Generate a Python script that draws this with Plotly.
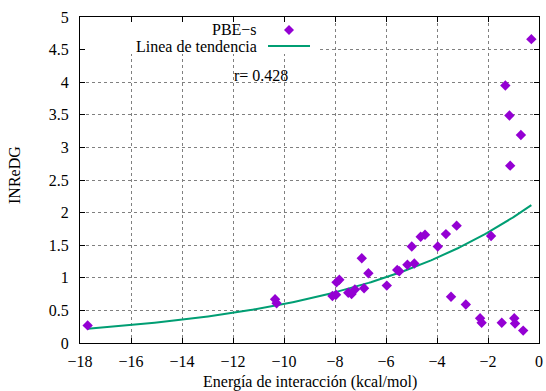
import numpy as np
import plotly.graph_objects as go

# Data
energia = [-17.70, -10.35, -10.29, -8.10, -7.96, -7.94, -7.83, -7.48, -7.35,
           -7.22, -6.95, -6.86, -6.69, -5.97, -5.56, -5.48, -5.16, -4.99, -4.89,
           -4.64, -4.47, -3.97, -3.65, -3.45, -3.23, -2.87, -2.31, -2.25, -1.88,
           -1.46, -1.32, -1.16, -1.13, -0.97, -0.94, -0.71, -0.62, -0.30]
inredg = [0.27, 0.67, 0.61, 0.72, 0.74, 0.93, 0.97, 0.77, 0.75,
          0.82, 1.30, 0.84, 1.07, 0.88, 1.12, 1.10, 1.20, 1.48, 1.22,
          1.63, 1.66, 1.48, 1.67, 0.71, 1.80, 0.59, 0.38, 0.31, 1.64,
          0.31, 3.95, 3.49, 2.72, 0.38, 0.30, 3.19, 0.19, 4.66]

# Exponential trend line parameters (y = A * exp(B * x))
trend_A = 2.20
trend_B = 0.1301
r_text = "r= 0.428"

x_ticks = [-18, -16, -14, -12, -10, -8, -6, -4, -2, 0]
y_ticks = [0, 0.5, 1, 1.5, 2, 2.5, 3, 3.5, 4, 4.5, 5]

PURPLE = "#9400d3"
GREEN = "#009e73"
FONT = "Liberation Serif, Times New Roman, DejaVu Serif, serif"
FS = 16

xt = np.linspace(min(energia), max(energia), 200)
yt = trend_A * np.exp(trend_B * xt)

W, H = 546, 391
ml, mr, mt, mb = 80, 7, 17, 48
pw, ph = W - ml - mr, H - mt - mb
XMIN, XMAX, YMIN, YMAX = -18, 0, 0, 5

def px(xp):
    return (xp - ml) / pw

def py(yp):
    return (H - mb - yp) / ph

def dx(xp):
    return XMIN + (xp - ml) / pw * (XMAX - XMIN)

def dy(yp):
    return YMIN + (H - mb - yp) / ph * (YMAX - YMIN)

fig = go.Figure()
fig.add_trace(go.Scatter(x=xt, y=yt, mode="lines",
                         line=dict(color=GREEN, width=2), name="Linea de tendencia",
                         showlegend=False))
fig.add_trace(go.Scatter(x=energia, y=inredg, mode="markers",
                         marker=dict(symbol="diamond", size=8, color=PURPLE, line=dict(width=0)),
                         name="PBE−s", showlegend=False))
# Opaque key box (hides the grid behind the key) drawn as a filled trace
fig.add_trace(go.Scatter(x=[dx(81), dx(320), dx(320), dx(81), dx(81)],
                         y=[dy(54), dy(54), dy(18), dy(18), dy(54)],
                         mode="lines", fill="toself", fillcolor="white",
                         line=dict(width=0, color="white"), hoverinfo="skip",
                         showlegend=False))

axis_common = dict(
    showline=True, linecolor="black", linewidth=1, mirror="allticks",
    ticks="inside", ticklen=5, tickcolor="black", tickwidth=1,
    showgrid=True, gridcolor="#808080", griddash="dot", gridwidth=1,
    zeroline=False, tickfont=dict(family=FONT, size=FS, color="black"),
    automargin=False, layer="above traces",
)

fig.update_xaxes(range=[XMIN, XMAX], tickvals=x_ticks,
                 ticktext=[("−" + str(abs(v))) if v < 0 else str(v) for v in x_ticks],
                 ticklabelstandoff=4, **axis_common)
fig.update_yaxes(range=[YMIN, YMAX], tickvals=y_ticks,
                 ticktext=[("%g" % v) for v in y_ticks],
                 ticklabelstandoff=7, **axis_common)

# Axis titles
fig.add_annotation(xref="paper", yref="paper", x=px(310), y=py(382),
                   text="Energía de interacción (kcal/mol)", showarrow=False,
                   xanchor="center", yanchor="middle",
                   font=dict(family=FONT, size=FS, color="black"))
fig.add_annotation(xref="paper", yref="paper", x=px(14), y=py(175),
                   text="INReDG", showarrow=False, textangle=-90,
                   xanchor="center", yanchor="middle",
                   font=dict(family=FONT, size=FS, color="black"))

# Key entries
fig.add_annotation(xref="paper", yref="paper", x=px(259), y=py(30), text="PBE−s",
                   showarrow=False, xanchor="right", yanchor="middle",
                   font=dict(family=FONT, size=FS, color="black"))
fig.add_annotation(xref="paper", yref="paper", x=px(259), y=py(46), text="Linea de tendencia",
                   showarrow=False, xanchor="right", yanchor="middle",
                   font=dict(family=FONT, size=FS, color="black"))
fig.add_shape(type="line", xref="paper", yref="paper",
              x0=px(268), x1=px(310), y0=py(46), y1=py(46),
              line=dict(color=GREEN, width=2), layer="above")
cx, cy, hs = 289, 30, 5
fig.add_shape(type="path", xref="paper", yref="paper",
              path=f"M {px(cx-hs)},{py(cy)} L {px(cx)},{py(cy-hs)} L {px(cx+hs)},{py(cy)} L {px(cx)},{py(cy+hs)} Z",
              fillcolor=PURPLE, line=dict(width=0), layer="above")

fig.add_annotation(xref="paper", yref="paper", x=px(232), y=py(76), text=r_text,
                   showarrow=False, xanchor="left", yanchor="middle",
                   font=dict(family=FONT, size=FS, color="black"))

fig.update_layout(width=W, height=H, margin=dict(l=ml, r=mr, t=mt, b=mb),
                  plot_bgcolor="white", paper_bgcolor="white", showlegend=False)

fig.write_html("out.html")
